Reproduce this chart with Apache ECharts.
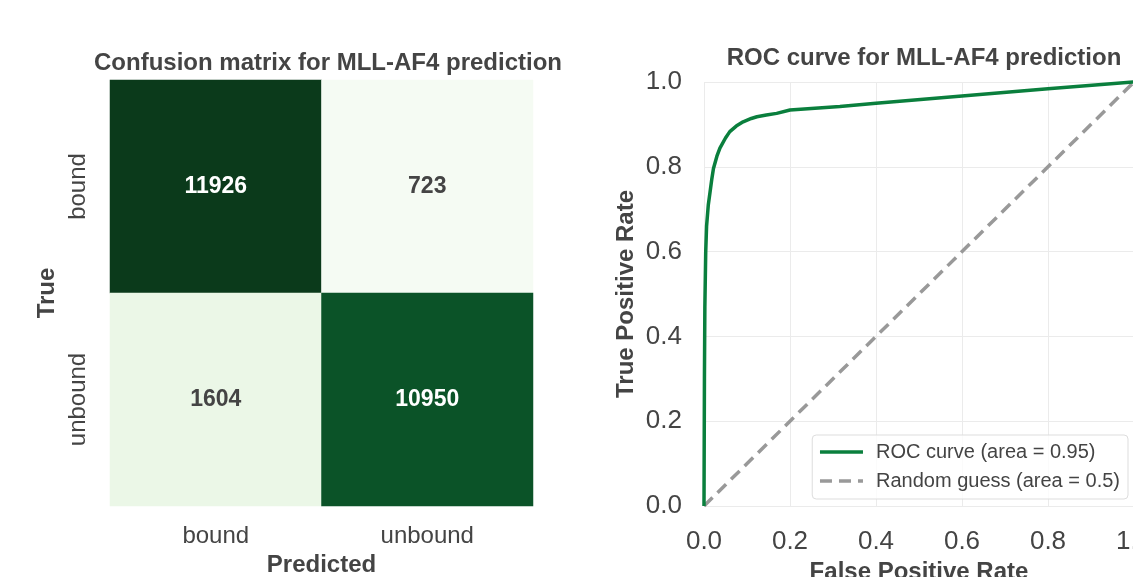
<!DOCTYPE html>
<html>
<head>
<meta charset="utf-8">
<script src="https://cdn.jsdelivr.net/npm/echarts@6/dist/echarts.min.js"></script>
<style>
html,body{margin:0;padding:0;background:#fff;}
#chart{width:1133px;height:577px;}
</style>
</head>
<body>
<div id="chart"></div>
<script>
// ---- data ----
const predictedLabels = ['bound', 'unbound'];
const trueLabels = ['bound', 'unbound'];
const cmRowBound = [11926, 723];
const cmRowUnbound = [1604, 10950];
const rocFpr = [0, 0.001, 0.002, 0.004, 0.006, 0.01, 0.014, 0.018, 0.022, 0.03, 0.037, 0.05, 0.06, 0.075, 0.091, 0.11, 0.123, 0.145, 0.169, 0.2, 0.316, 0.4, 0.6, 0.8, 1.0];
const rocTpr = [0, 0.30, 0.47, 0.60, 0.66, 0.71, 0.74, 0.77, 0.796, 0.825, 0.844, 0.868, 0.883, 0.896, 0.906, 0.914, 0.918, 0.922, 0.926, 0.934, 0.942, 0.950, 0.967, 0.984, 1.0];
const randomFpr = [0, 1];
const randomTpr = [0, 1];
const rocName = 'ROC curve (area = 0.95)';
const randomName = 'Random guess (area = 0.5)';

// ---- build ----
const cmRows = [cmRowBound, cmRowUnbound];
const heatData = [];
cmRows.forEach((row, ti) => row.forEach((v, pi) => {
  heatData.push({
    value: [pi, ti, v],
    label: { color: v > 6000 ? '#ffffff' : '#444444' }
  });
}));
const allVals = cmRowBound.concat(cmRowUnbound);
const rocData = rocFpr.map((x, i) => [x, rocTpr[i]]);
const randData = randomFpr.map((x, i) => [x, randomTpr[i]]);

const FONT = 'Liberation Sans, Arial, sans-serif';
const TXT = '#444444';

const chart = echarts.init(document.getElementById('chart'));
chart.setOption({
  backgroundColor: '#ffffff',
  animation: false,
  textStyle: { fontFamily: FONT },
  title: [
    { text: 'Confusion matrix for MLL-AF4 prediction', left: 323, top: 46, textAlign: 'center',
      textStyle: { fontSize: 24, fontWeight: 'bold', color: TXT, fontFamily: FONT } },
    { text: 'ROC curve for MLL-AF4 prediction', left: 919, top: 41, textAlign: 'center',
      textStyle: { fontSize: 24, fontWeight: 'bold', color: TXT, fontFamily: FONT } }
  ],
  grid: [
    { left: 110, top: 80, width: 423, height: 426, containLabel: false, outerBoundsMode: 'none' },
    { left: 704, top: 82, width: 430, height: 424, containLabel: false, outerBoundsMode: 'none' }
  ],
  visualMap: {
    show: false, seriesIndex: 0,
    min: Math.min(...allVals), max: Math.max(...allVals),
    inRange: { color: ['#f5fbf3', '#e5f5e0', '#c7e9c0', '#a1d99b', '#74c476', '#41ab5d', '#238b45', '#0b5e2e', '#0b3a1b'] }
  },
  legend: {
    orient: 'vertical', right: 5, top: 435,
    data: [rocName, randomName],
    itemWidth: 43, itemHeight: 14, itemGap: 9,
    padding: [7, 8, 8, 6],
    borderColor: '#dddddd', borderWidth: 1, borderRadius: 4,
    backgroundColor: 'rgba(255,255,255,0.8)',
    itemStyle: { color: 'rgba(0,0,0,0)', borderWidth: 0 },
    lineStyle: { width: 3.5 },
    textStyle: { fontSize: 20, color: TXT, fontFamily: FONT, padding: [0, 0, 0, 8] }
  },
  xAxis: [
    { type: 'category', gridIndex: 0, data: predictedLabels,
      axisLine: { show: false }, axisTick: { show: false }, splitLine: { show: false },
      axisLabel: { fontSize: 24, color: TXT, margin: 18, fontFamily: FONT },
      name: 'Predicted', nameLocation: 'middle', nameGap: 47,
      nameTextStyle: { fontSize: 24, fontWeight: 'bold', color: TXT, fontFamily: FONT } },
    { type: 'value', gridIndex: 1, min: 0, max: 1, interval: 0.2,
      axisLine: { show: false }, axisTick: { show: false },
      splitLine: { show: true, lineStyle: { color: '#ebebeb', width: 1 } },
      axisLabel: { fontSize: 26, color: TXT, margin: 23, fontFamily: FONT, formatter: v => v.toFixed(1) },
      name: 'False Positive Rate', nameLocation: 'middle', nameGap: 54,
      nameTextStyle: { fontSize: 24, fontWeight: 'bold', color: TXT, fontFamily: FONT } }
  ],
  yAxis: [
    { type: 'category', gridIndex: 0, data: trueLabels, inverse: true,
      axisLine: { show: false }, axisTick: { show: false }, splitLine: { show: false },
      axisLabel: { fontSize: 24, color: TXT, margin: 20, rotate: 90, fontFamily: FONT },
      name: 'True', nameLocation: 'middle', nameGap: 51, nameRotate: 90,
      nameTextStyle: { fontSize: 24, fontWeight: 'bold', color: TXT, fontFamily: FONT } },
    { type: 'value', gridIndex: 1, min: 0, max: 1, interval: 0.2,
      axisLine: { show: false }, axisTick: { show: false },
      splitLine: { show: true, lineStyle: { color: '#ebebeb', width: 1 } },
      axisLabel: { fontSize: 26, color: TXT, margin: 22, fontFamily: FONT, formatter: v => v.toFixed(1) },
      name: 'True Positive Rate', nameLocation: 'middle', nameGap: 66, nameRotate: 90,
      nameTextStyle: { fontSize: 24, fontWeight: 'bold', color: TXT, fontFamily: FONT } }
  ],
  series: [
    { type: 'heatmap', xAxisIndex: 0, yAxisIndex: 0, data: heatData,
      label: { show: true, fontSize: 23, fontWeight: 'bold', fontFamily: FONT, formatter: p => String(p.value[2]) },
      emphasis: { disabled: true } },
    { name: rocName, type: 'line', xAxisIndex: 1, yAxisIndex: 1, data: rocData,
      symbol: 'none', smooth: false, clip: false,
      lineStyle: { color: '#0a7f3d', width: 3.5 }, itemStyle: { color: '#0a7f3d' }, z: 3 },
    { name: randomName, type: 'line', xAxisIndex: 1, yAxisIndex: 1, data: randData,
      symbol: 'none', clip: false,
      lineStyle: { color: '#999999', width: 3.5, type: [12, 7] }, itemStyle: { color: '#999999' }, z: 2 }
  ]
});
</script>
</body>
</html>
